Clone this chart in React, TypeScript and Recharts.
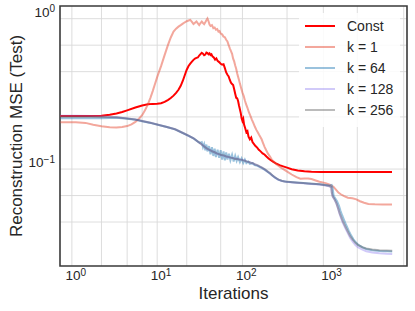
import { LineChart, Line, XAxis, YAxis, CartesianGrid, Legend, ReferenceArea } from "recharts";

const FONT = '"Liberation Sans", Arial, Helvetica, sans-serif';

// axis ticks (log scales)
const X_TICKS = [1, 10, 100, 1000];
const Y_TICKS = [0.1, 1];
const X_MINOR = [
  0.7, 0.8, 0.9, 2, 3, 4, 5, 6, 7, 8, 9, 20, 30, 40, 50, 60, 70, 80, 90,
  200, 300, 400, 500, 600, 700, 800, 900, 2000, 3000, 4000, 5000, 6000, 7000,
];
const Y_MINOR = [0.03, 0.04, 0.05, 0.06, 0.07, 0.08, 0.09, 0.2, 0.3, 0.4, 0.5, 0.6, 0.7, 0.8, 0.9];
const X_DOMAIN = [0.653, 7650];
const Y_DOMAIN = [0.0204, 1.093];

// [iteration, test MSE]
const constMse: [number, number][] = [
  [0.66, 0.2025], [1, 0.2025], [1.5, 0.2027], [2, 0.2035], [2.5, 0.2065], [3, 0.211], [3.5, 0.2155],
  [4, 0.221], [5, 0.231], [6, 0.238], [7, 0.2425], [8, 0.2442], [9, 0.2448], [10, 0.2465], [11, 0.252],
  [12, 0.259], [13, 0.267], [14, 0.277], [15, 0.289], [16, 0.303], [17, 0.322], [18, 0.348], [19, 0.38],
  [20, 0.412], [21, 0.436], [22, 0.452], [23, 0.466], [24, 0.479], [25, 0.489], [26, 0.494], [27, 0.497],
  [28, 0.512], [29, 0.523], [30, 0.534], [31, 0.527], [32, 0.514], [33, 0.519], [34, 0.536], [35, 0.531],
  [36, 0.521], [37, 0.529], [38, 0.516], [39, 0.522], [40, 0.506], [41.5, 0.497], [43, 0.481], [44.5, 0.49],
  [46, 0.472], [48, 0.463], [50, 0.451], [52, 0.445], [54, 0.448], [56, 0.422], [58, 0.395], [60, 0.381],
  [62, 0.372], [64, 0.352], [66, 0.338], [68, 0.331], [70, 0.326], [72, 0.305], [74, 0.285], [76, 0.268],
  [78, 0.266], [80, 0.255], [82, 0.238], [84, 0.225], [86, 0.212], [88, 0.196], [90, 0.188], [92, 0.194],
  [94, 0.178], [97, 0.168], [100, 0.158], [103, 0.161], [106, 0.148], [110, 0.142], [114, 0.146],
  [118, 0.136], [123, 0.132], [128, 0.128], [134, 0.125], [140, 0.121], [147, 0.118], [155, 0.1145],
  [163, 0.1125], [172, 0.109], [182, 0.1058], [192, 0.1035], [205, 0.1008], [222, 0.0982], [245, 0.0955],
  [270, 0.0938], [300, 0.092], [340, 0.0898], [400, 0.0881], [480, 0.087], [580, 0.0864], [750, 0.0862],
  [1100, 0.0862], [2000, 0.0861], [3500, 0.0861], [5100, 0.0861],
];

const k1Mse: [number, number][] = [
  [0.66, 0.184], [1, 0.184], [1.3, 0.1825], [1.6, 0.1775], [2, 0.1732], [2.5, 0.1708], [3, 0.1702],
  [3.5, 0.1712], [4, 0.1738], [4.5, 0.1785], [5, 0.1855], [5.5, 0.1945], [6, 0.2055], [6.5, 0.222],
  [7, 0.242], [7.5, 0.268], [8, 0.298], [8.5, 0.332], [9, 0.368], [9.5, 0.402], [10, 0.435], [11, 0.515],
  [12, 0.598], [13, 0.675], [14, 0.738], [15, 0.772], [16, 0.797], [17, 0.815], [18, 0.834], [19, 0.852],
  [20, 0.866], [21, 0.876], [22, 0.884], [23, 0.858], [24, 0.829], [25, 0.846], [26, 0.863], [27, 0.838],
  [28, 0.816], [29, 0.842], [30, 0.861], [31, 0.843], [32, 0.828], [33, 0.852], [34, 0.878], [35, 0.903],
  [36, 0.866], [37, 0.822], [38, 0.806], [39.5, 0.815], [41, 0.778], [42.5, 0.786], [44, 0.761],
  [45.5, 0.768], [47, 0.74], [48.5, 0.745], [50, 0.716], [52, 0.708], [54, 0.684], [56, 0.678],
  [58, 0.652], [60, 0.636], [62, 0.6], [64, 0.572], [66, 0.548], [68, 0.525], [70, 0.488], [72, 0.468],
  [74, 0.44], [76, 0.418], [78, 0.39], [80, 0.37], [82, 0.352], [84, 0.333], [87, 0.31], [90, 0.29],
  [93, 0.276], [96, 0.258], [99, 0.244], [103, 0.23], [107, 0.215], [111, 0.205], [116, 0.192],
  [121, 0.182], [126, 0.172], [131, 0.164], [136, 0.158], [141, 0.152], [146, 0.147], [151, 0.142],
  [157, 0.134], [164, 0.126], [171, 0.12], [180, 0.1135], [190, 0.1085], [200, 0.1035], [225, 0.097],
  [260, 0.0912], [295, 0.0872], [340, 0.0828], [387, 0.0795], [430, 0.0776], [480, 0.0779], [530, 0.078],
  [580, 0.0772], [650, 0.0756], [720, 0.0742], [850, 0.0726], [950, 0.0708], [1050, 0.0686],
  [1130, 0.0655], [1200, 0.0628], [1280, 0.0612], [1400, 0.0594], [1550, 0.058], [1750, 0.0576],
  [1950, 0.0566], [2150, 0.055], [2400, 0.0537], [2700, 0.0528], [3200, 0.0525], [4000, 0.0524],
  [5100, 0.0524],
];

const k64Mse: [number, number][] = [
  [0.66, 0.1958], [1, 0.1958], [1.5, 0.1958], [2, 0.1962], [2.5, 0.197], [3, 0.1975], [4, 0.1948],
  [5, 0.1918], [6, 0.1872], [7.5, 0.1825], [9, 0.1778], [11.7, 0.1712], [14.6, 0.1652], [18.3, 0.1555],
  [21, 0.1498], [24, 0.144], [27, 0.137], [28.5, 0.1345], [30, 0.136], [31, 0.126], [32, 0.132],
  [33, 0.12], [34, 0.131], [35, 0.118], [36.5, 0.128], [38, 0.113], [39.5, 0.126], [41, 0.11],
  [42.5, 0.123], [44, 0.108], [46, 0.121], [48, 0.107], [50, 0.12], [52, 0.104], [54, 0.118],
  [56, 0.103], [58, 0.116], [60, 0.104], [62.5, 0.114], [65, 0.103], [68, 0.112], [71, 0.101],
  [74, 0.11], [77, 0.102], [80, 0.108], [84, 0.1], [88, 0.106], [92, 0.099], [96, 0.104], [100, 0.0985],
  [105, 0.101], [110, 0.0975], [118, 0.0985], [125, 0.0955], [135, 0.0945], [150, 0.0915],
  [165, 0.0888], [180, 0.0858], [197, 0.0825], [215, 0.0792], [236, 0.0766], [260, 0.0751],
  [295, 0.0742], [350, 0.0736], [464, 0.0727], [580, 0.072], [720, 0.0714], [850, 0.0706], [950, 0.07],
  [1000, 0.0705], [1030, 0.0665], [1055, 0.0598], [1100, 0.0575], [1160, 0.0548], [1220, 0.0512],
  [1270, 0.0475], [1330, 0.0442], [1400, 0.0412], [1480, 0.0382], [1580, 0.0352], [1690, 0.0326],
  [1800, 0.0307], [1930, 0.0292], [2060, 0.0282], [2300, 0.0271], [2545, 0.0265], [3000, 0.026],
  [3640, 0.0257], [4400, 0.0256], [5130, 0.0255],
];

const k128Mse: [number, number][] = [
  [0.66, 0.2035], [1, 0.2035], [1.5, 0.203], [2, 0.2022], [3, 0.1992], [4, 0.1956], [5, 0.192],
  [6, 0.1876], [7.5, 0.1829], [9, 0.178], [11.7, 0.1716], [14.6, 0.1656], [18.3, 0.1557], [21, 0.1499],
  [24, 0.1441], [28.6, 0.1336], [31, 0.1294], [34, 0.1236], [37, 0.1205], [40, 0.1182], [45, 0.1142],
  [50, 0.1118], [55, 0.1102], [61, 0.1082], [68, 0.1068], [76, 0.1053], [84, 0.1043], [92, 0.1033],
  [100, 0.1013], [110, 0.0998], [120, 0.098], [135, 0.0953], [150, 0.0922], [165, 0.0892],
  [180, 0.086], [197, 0.0826], [215, 0.0793], [236, 0.0766], [260, 0.075], [295, 0.074], [350, 0.0733],
  [464, 0.0723], [580, 0.0716], [720, 0.071], [850, 0.07], [950, 0.069], [990, 0.0678], [1005, 0.0622],
  [1030, 0.0588], [1080, 0.0565], [1135, 0.0532], [1190, 0.049], [1240, 0.0452], [1300, 0.042],
  [1357, 0.0394], [1450, 0.0363], [1551, 0.0336], [1650, 0.0313], [1775, 0.0295], [1900, 0.0281],
  [2030, 0.0272], [2300, 0.0262], [2545, 0.0256], [3000, 0.0251], [3640, 0.0248], [4400, 0.0246],
  [5130, 0.0245],
];

const k256Mse: [number, number][] = [
  [0.66, 0.2005], [1, 0.2005], [1.5, 0.2003], [2, 0.2], [3, 0.1988], [4, 0.1955], [5, 0.192],
  [6, 0.1876], [7.5, 0.1828], [9, 0.178], [11.7, 0.1715], [14.6, 0.1655], [18.3, 0.1558], [21, 0.15],
  [24, 0.1442], [28.6, 0.1338], [31, 0.1292], [34, 0.124], [36, 0.1215], [38, 0.1198], [40, 0.1178],
  [42, 0.1168], [45, 0.1145], [48, 0.1132], [51, 0.1115], [55, 0.1108], [58, 0.1092], [61, 0.1088],
  [65, 0.1072], [69, 0.1068], [73, 0.1052], [77, 0.1055], [82, 0.1042], [87, 0.104], [92, 0.1028],
  [97, 0.1022], [102, 0.1008], [108, 0.1002], [114, 0.0986], [120, 0.0984], [127, 0.0965],
  [135, 0.0956], [143, 0.0938], [151, 0.0925], [160, 0.0905], [170, 0.0885], [180, 0.0862],
  [190, 0.0846], [200, 0.082], [212, 0.08], [225, 0.0782], [240, 0.0765], [260, 0.0752], [280, 0.0745],
  [310, 0.0741], [350, 0.0736], [400, 0.0731], [464, 0.0726], [530, 0.0722], [600, 0.0718],
  [720, 0.0712], [850, 0.0703], [950, 0.0693], [990, 0.068], [1005, 0.0628], [1030, 0.0592],
  [1080, 0.0568], [1135, 0.0535], [1190, 0.0495], [1240, 0.0458], [1300, 0.0428], [1357, 0.0402],
  [1450, 0.0372], [1551, 0.0345], [1650, 0.0322], [1775, 0.0304], [1900, 0.0291], [2030, 0.0282],
  [2300, 0.0272], [2545, 0.0267], [3000, 0.0263], [3640, 0.026], [4400, 0.0259], [5130, 0.0258],
];

const SERIES = [
  { name: "Const", points: constMse, color: "#ff0000", opacity: 1 },
  { name: "k = 1", points: k1Mse, color: "#e8503a", opacity: 0.5 },
  { name: "k = 64", points: k64Mse, color: "#1f77b4", opacity: 0.45 },
  { name: "k = 128", points: k128Mse, color: "#7b68ee", opacity: 0.35 },
  { name: "k = 256", points: k256Mse, color: "#555555", opacity: 0.4 },
];

const toRows = (pts: [number, number][]) => pts.map(([x, y]) => ({ x, y }));

function XTick({ x, y, payload }: any) {
  const exp = Math.round(Math.log10(payload.value));
  return (
    <text x={x} y={y + 14} textAnchor="middle" fill="#262626" fontSize={13.5} fontFamily={FONT}>
      10
      <tspan dy={-4.5} fontSize={10}>
        {exp}
      </tspan>
    </text>
  );
}

function YTick({ x, y, payload }: any) {
  const exp = Math.round(Math.log10(payload.value));
  return (
    <text x={x - 5} y={y + 5} textAnchor="end" fill="#262626" fontSize={13.5} fontFamily={FONT}>
      10
      <tspan dy={-4.5} fontSize={10}>
        {exp < 0 ? "\u2212" + Math.abs(exp) : String(exp)}
      </tspan>
    </text>
  );
}

function LegendBox() {
  return (
    <div
      style={{
        background: "rgba(255,255,255,0.85)",
        padding: "3px 0 7px 6px",
        width: 101,
        boxSizing: "border-box",
        fontFamily: FONT,
        fontSize: 14,
        color: "#262626",
      }}
    >
      {SERIES.map((s) => (
        <div key={s.name} style={{ display: "flex", alignItems: "center", height: 20.8 }}>
          <svg width={30} height={4} style={{ display: "block" }}>
            <line x1={0} y1={2} x2={30} y2={2} stroke={s.color} strokeOpacity={s.opacity} strokeWidth={2} />
          </svg>
          <span style={{ marginLeft: 12, lineHeight: "16px" }}>{s.name}</span>
        </div>
      ))}
    </div>
  );
}

export default function App() {
  return (
    <div style={{ position: "absolute", left: 0, top: 0, width: 415, height: 311, background: "#fff" }}>
      <LineChart width={415} height={311} margin={{ top: 6, right: 8, bottom: 0, left: 0 }}>
        <CartesianGrid
          stroke="#d9d9d9"
          strokeWidth={0.9}
          verticalValues={X_MINOR}
          horizontalValues={Y_MINOR}
        />
        <XAxis
          dataKey="x"
          type="number"
          scale="log"
          domain={X_DOMAIN}
          allowDataOverflow
          ticks={X_TICKS}
          tick={<XTick />}
          tickLine={false}
          tickSize={0}
          tickMargin={0}
          axisLine={false}
          height={45}
          label={{
            value: "Iterations",
            position: "insideBottom",
            offset: 12.5,
            fill: "#262626",
            fontSize: 17,
            fontFamily: FONT,
          }}
        />
        <YAxis
          dataKey="y"
          type="number"
          scale="log"
          domain={Y_DOMAIN}
          allowDataOverflow
          ticks={Y_TICKS}
          tick={<YTick />}
          tickLine={false}
          tickSize={0}
          tickMargin={0}
          axisLine={false}
          width={60}
          label={{
            value: "Reconstruction MSE (Test)",
            angle: -90,
            position: "insideLeft",
            offset: 16,
            fill: "#262626",
            fontSize: 17,
            fontFamily: FONT,
            style: { textAnchor: "middle" },
          }}
        />
        {SERIES.map((s) => (
          <Line
            key={s.name}
            data={toRows(s.points)}
            dataKey="y"
            name={s.name}
            type="linear"
            stroke={s.color}
            strokeOpacity={s.opacity}
            strokeWidth={2}
            dot={false}
            activeDot={false}
            isAnimationActive={false}
          />
        ))}
        <ReferenceArea
          x1={X_DOMAIN[0]}
          x2={X_DOMAIN[1]}
          y1={Y_DOMAIN[0]}
          y2={Y_DOMAIN[1]}
          fill="none"
          stroke="#3a3a3a"
          strokeWidth={1.6}
          ifOverflow="visible"
        />
        <Legend
          content={<LegendBox />}
          layout="vertical"
          align="center"
          verticalAlign="middle"
          wrapperStyle={{ left: 299, top: 13, width: 101, height: "auto" }}
        />
      </LineChart>
    </div>
  );
}
